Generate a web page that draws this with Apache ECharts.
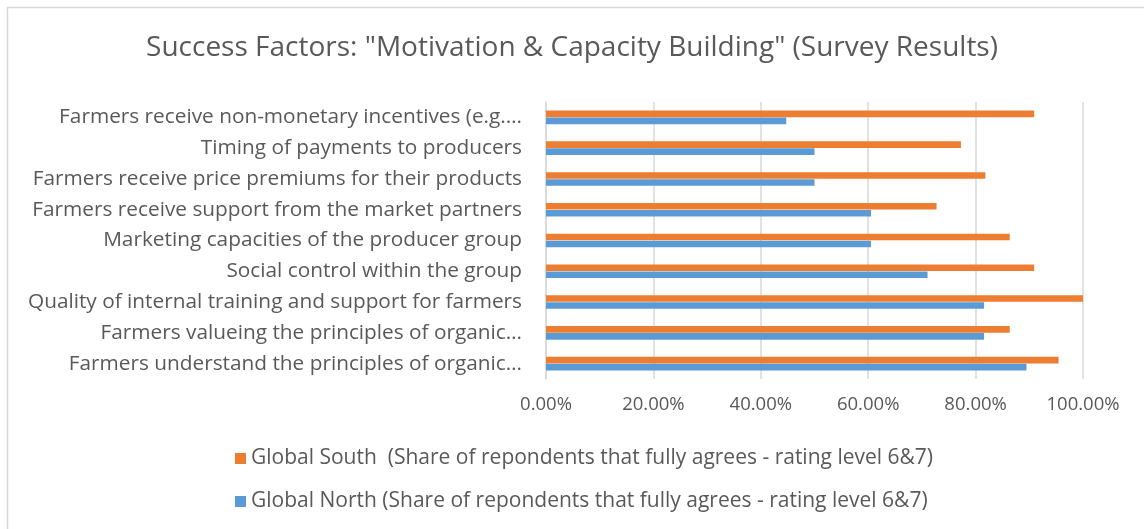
<!DOCTYPE html>
<html><head><meta charset="utf-8">
<script src="https://cdn.jsdelivr.net/npm/echarts@6/dist/echarts.min.js"></script>
<style>html,body{margin:0;padding:0;background:#fff}#c{width:1144px;height:529px}</style>
</head><body><div id="c"></div>
<script>
const categories = [
  "Farmers receive non-monetary incentives (e.g.…",
  "Timing of payments to producers",
  "Farmers receive price premiums for their products",
  "Farmers receive support from the market partners",
  "Marketing capacities of the producer group",
  "Social control within the group",
  "Quality of internal training and support for farmers",
  "Farmers valueing the principles of organic…",
  "Farmers understand the principles of organic…"
];
const southValues = [0.9091, 0.7727, 0.8182, 0.7273, 0.8636, 0.9091, 1.0, 0.8636, 0.9545];
const northValues = [0.4474, 0.5, 0.5, 0.6053, 0.6053, 0.7105, 0.8158, 0.8158, 0.8947];
const seriesNames = [
  "Global South  (Share of repondents that fully agrees - rating level 6&7)",
  "Global North (Share of repondents that fully agrees - rating level 6&7)"
];
const titleText = 'Success Factors: "Motivation & Capacity Building" (Survey Results)';

const FONT = "Open Sans";
const chart = echarts.init(document.getElementById('c'));
chart.setOption({
  animation: false,
  textStyle: {fontFamily: FONT, color: '#595959'},
  title: {text: titleText, left: 'center', top: 29,
    textStyle: {fontFamily: FONT, fontSize: 28, fontWeight: 'normal', color: '#595959'}},
  graphic: [{type: 'rect', shape: {x: 7.5, y: 7.5, width: 1200, height: 600},
    style: {fill: 'none', stroke: '#d9d9d9', lineWidth: 1.5}, silent: true, z: -1}],
  grid: {left: 546, right: 61, top: 102, bottom: 150, containLabel: false},
  legend: {orient: 'vertical', left: 230, top: 443, itemGap: 22, itemWidth: 11, itemHeight: 11,
    itemStyle: {borderWidth: 0},
    icon: 'rect', textStyle: {fontFamily: FONT, fontSize: 21, color: '#595959'},
    data: seriesNames},
  xAxis: {type: 'value', min: 0, max: 1, interval: 0.2,
    axisLine: {show: false}, axisTick: {show: false},
    splitLine: {lineStyle: {color: '#d9d9d9', width: 1.5}},
    axisLabel: {fontSize: 18.5, color: '#595959', margin: 16,
      formatter: v => (v * 100).toFixed(2) + '%'}},
  yAxis: {type: 'category', data: categories, inverse: true,
    axisLine: {show: true, lineStyle: {color: '#d9d9d9', width: 1.5}},
    axisTick: {show: false},
    axisLabel: {fontSize: 20.8, color: '#595959', margin: 24}},
  series: [
    {name: seriesNames[0], type: 'bar', data: southValues, barWidth: 6.6, barGap: '6%',
      itemStyle: {color: '#ED7D31'}},
    {name: seriesNames[1], type: 'bar', data: northValues, barWidth: 6.6, barGap: '6%',
      itemStyle: {color: '#5B9BD5'}}
  ]
});
</script></body></html>
